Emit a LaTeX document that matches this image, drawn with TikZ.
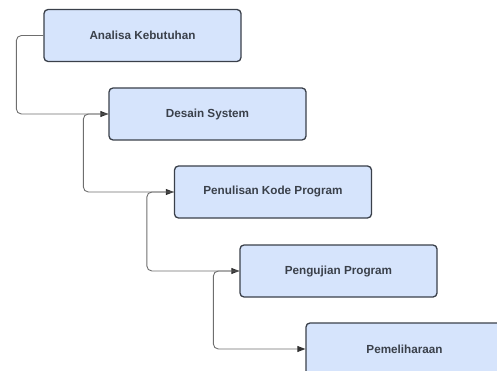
\documentclass[tikz,border=0pt]{standalone}
\usepackage{fontspec}
\setmainfont{Liberation Sans}
\usetikzlibrary{arrows.meta}
\definecolor{boxfill}{RGB}{214,228,252}
\definecolor{boxline}{RGB}{58,64,74}
\definecolor{wire}{RGB}{110,110,110}
\definecolor{tip}{RGB}{50,50,50}
\tikzset{
	stage/.style={draw=boxline, fill=boxfill, line width=1.3pt, rounded corners=4pt,
		minimum width=197pt, minimum height=52pt, inner sep=0pt,
		text=boxline, font=\fontsize{11.7}{14}\selectfont\bfseries},
	flow/.style={draw=wire, line width=0.9pt, rounded corners=5pt,
		-{Triangle[length=8pt,width=6pt,color=tip]}}
}
\begin{document}
\begin{tikzpicture}[x=1pt, y=-1pt]
			\useasboundingbox (0,0) rectangle (497,371);
			\clip (0,0) rectangle (497,371);

			% the five stages
			\node[stage] (b1) at (142.5,35.5){Analisa Kebutuhan};
			\node[stage] (b2) at (207.5,114){Desain System};
			\node[stage] (b3) at (273,192){Penulisan Kode Program};
			\node[stage] (b4) at (338.5,271){Pengujian Program};
			\node[stage] (b5) at (404.5,349){Pemeliharaan};

			% connectors
			\draw[flow] (b1.west) -- ++(-27,0) |- (b2.west);
			\draw[flow] (b2.west) -- ++(-25,0) |- (b3.west);
			\draw[flow] (b3.west) -- ++(-27,0) |- (b4.west);
			\draw[flow] (b4.west) -- ++(-26,0) |- (b5.west);

		\end{tikzpicture}
\end{document}
